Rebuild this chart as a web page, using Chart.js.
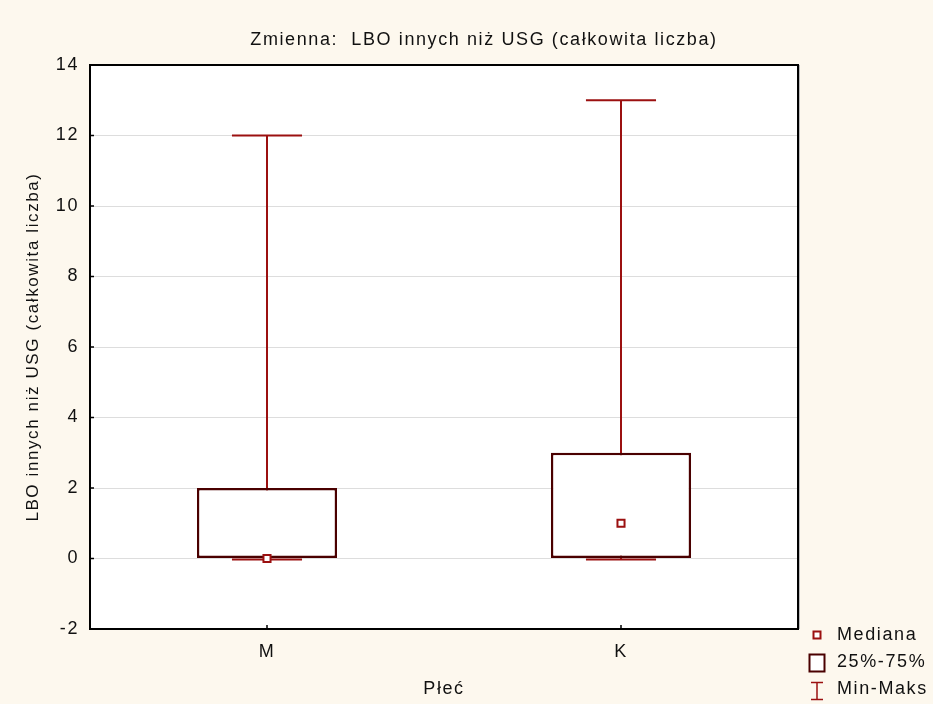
<!DOCTYPE html>
<html>
<head>
<meta charset="utf-8">
<script src="https://cdn.jsdelivr.net/npm/chart.js@4.4.0/dist/chart.umd.min.js"></script>
<style>
  html, body { margin: 0; padding: 0; background: #fdf8ee; }
  #wrap { position: relative; width: 933px; height: 704px; }
  #legend { position: absolute; left: 808px; top: 621px; font: 18px "Liberation Sans", Arial, sans-serif; letter-spacing: 1.6px; color: #111; }
  .row { position: relative; height: 27px; padding-left: 29px; line-height: 27px; white-space: nowrap; }
  .ico { position: absolute; left: 0; }
</style>
</head>
<body>
<div id="wrap">
  <canvas id="c" width="933" height="704"></canvas>
  <div id="legend">
    <div class="row"><svg class="ico" width="22" height="27"><rect x="5.5" y="10.5" width="7" height="7" fill="#fff" stroke="#9b1010" stroke-width="2"/></svg>Mediana</div>
    <div class="row"><svg class="ico" width="22" height="27"><rect x="1.5" y="6.5" width="15" height="17" fill="#fff" stroke="#4a0000" stroke-width="2"/></svg>25%-75%</div>
    <div class="row"><svg class="ico" width="22" height="27"><path d="M3 7.5 H15 M9 7.5 V24.5 M3 24.5 H15" stroke="#9b1010" stroke-width="1.5" fill="none"/></svg>Min-Maks</div>
  </div>
</div>
<script>
const categories = ["M", "K"];
const minValues = [0, 0];
const q1Values = [0, 0];
const medianValues = [0, 1];
const q3Values = [2, 3];
const maxValues = [12, 13];
const yTicks = [-2, 0, 2, 4, 6, 8, 10, 12, 14];

const titleText = "Zmienna:  LBO innych niż USG (całkowita liczba)";
const fontFamily = '"Liberation Sans", Arial, sans-serif';
const spacing = "1.6px";

const whiskerPlugin = {
  id: "whiskers",
  beforeDatasetsDraw(chart) {
    const ctx = chart.ctx;
    const x = chart.scales.x;
    const y = chart.scales.y;
    const bars = chart.getDatasetMeta(0).data;
    ctx.save();
    ctx.strokeStyle = "#9b1010";
    ctx.lineWidth = 2;
    categories.forEach((c, i) => {
      const cx = x.getPixelForValue(i);
      const half = bars[i].width / 4;
      const yMin = y.getPixelForValue(minValues[i]);
      const yMax = y.getPixelForValue(maxValues[i]);
      ctx.beginPath();
      ctx.moveTo(cx, yMin);
      ctx.lineTo(cx, yMax);
      ctx.moveTo(cx - half, yMax);
      ctx.lineTo(cx + half, yMax);
      ctx.moveTo(cx - half, yMin + 1);
      ctx.lineTo(cx + half, yMin + 1);
      ctx.stroke();
    });
    ctx.restore();
  },
  afterDraw(chart) {
    const ctx = chart.ctx;
    const a = chart.chartArea;
    ctx.save();
    ctx.strokeStyle = "#bbbbbb";
    ctx.lineWidth = 1;
    ctx.beginPath();
    ctx.moveTo(a.right + 1.5, a.top);
    ctx.lineTo(a.right + 1.5, a.bottom);
    ctx.stroke();
    ctx.strokeStyle = "#000";
    ctx.lineWidth = 2;
    ctx.strokeRect(a.left, a.top, a.right - a.left, a.bottom - a.top);
    ctx.lineWidth = 1.5;
    ctx.beginPath();
    yTicks.forEach(v => {
      const py = chart.scales.y.getPixelForValue(v);
      ctx.moveTo(a.left, py);
      ctx.lineTo(a.left + 4, py);
    });
    categories.forEach((c, i) => {
      const px = chart.scales.x.getPixelForValue(i);
      ctx.moveTo(px, a.bottom);
      ctx.lineTo(px, a.bottom - 4);
    });
    ctx.stroke();
    ctx.fillStyle = "#111";
    ctx.font = "18px " + fontFamily;
    ctx.letterSpacing = spacing;
    ctx.textAlign = "center";
    ctx.textBaseline = "middle";
    ctx.fillText(titleText, 484, 40);
    ctx.restore();
  }
};

const plotBg = {
  id: "plotBg",
  beforeDraw(chart) {
    const a = chart.chartArea;
    const ctx = chart.ctx;
    ctx.letterSpacing = spacing;
    ctx.save();
    ctx.fillStyle = "#ffffff";
    ctx.fillRect(a.left, a.top, a.right - a.left, a.bottom - a.top);
    ctx.restore();
  }
};

const ctx2d = document.getElementById("c").getContext("2d");
ctx2d.letterSpacing = spacing;

new Chart(ctx2d, {
  type: "bar",
  data: {
    labels: categories,
    datasets: [
      {
        label: "25%-75%",
        data: categories.map((c, i) => [q1Values[i], q3Values[i]]),
        backgroundColor: "#ffffff",
        borderColor: "#4a0000",
        borderWidth: 2.5,
        borderSkipped: false,
        barPercentage: 0.396,
        categoryPercentage: 1,
        order: 2
      },
      {
        type: "line",
        label: "Mediana",
        data: medianValues,
        showLine: false,
        pointStyle: "rect",
        pointRadius: 5,
        pointBackgroundColor: "#ffffff",
        pointBorderColor: "#9b1010",
        pointBorderWidth: 2,
        order: 1
      }
    ]
  },
  options: {
    responsive: false,
    animation: false,
    layout: { padding: { top: 65, right: 135, bottom: 0, left: 0 } },
    plugins: {
      legend: { display: false },
      tooltip: { enabled: false }
    },
    scales: {
      x: {
        grid: { display: false, drawTicks: false },
        border: { display: false },
        ticks: { color: "#111", font: { size: 18, family: fontFamily }, padding: 12 },
        title: { display: true, text: "Płeć", color: "#111", font: { size: 18, family: fontFamily }, padding: { top: 14 } },
        afterFit(s) { s.height = 75; }
      },
      y: {
        min: -2,
        max: 14,
        afterBuildTicks(s) { s.ticks = yTicks.map(v => ({ value: v })); },
        grid: { color: "#dddddd", drawTicks: false },
        border: { display: false },
        ticks: { color: "#111", font: { size: 18, family: fontFamily }, padding: 11 },
        title: { display: true, text: "LBO innych niż USG (całkowita liczba)", color: "#111", font: { size: 17, family: fontFamily }, padding: { top: 23 } },
        afterFit(s) { s.width = 90; }
      }
    }
  },
  plugins: [plotBg, whiskerPlugin]
});
</script>
</body>
</html>
